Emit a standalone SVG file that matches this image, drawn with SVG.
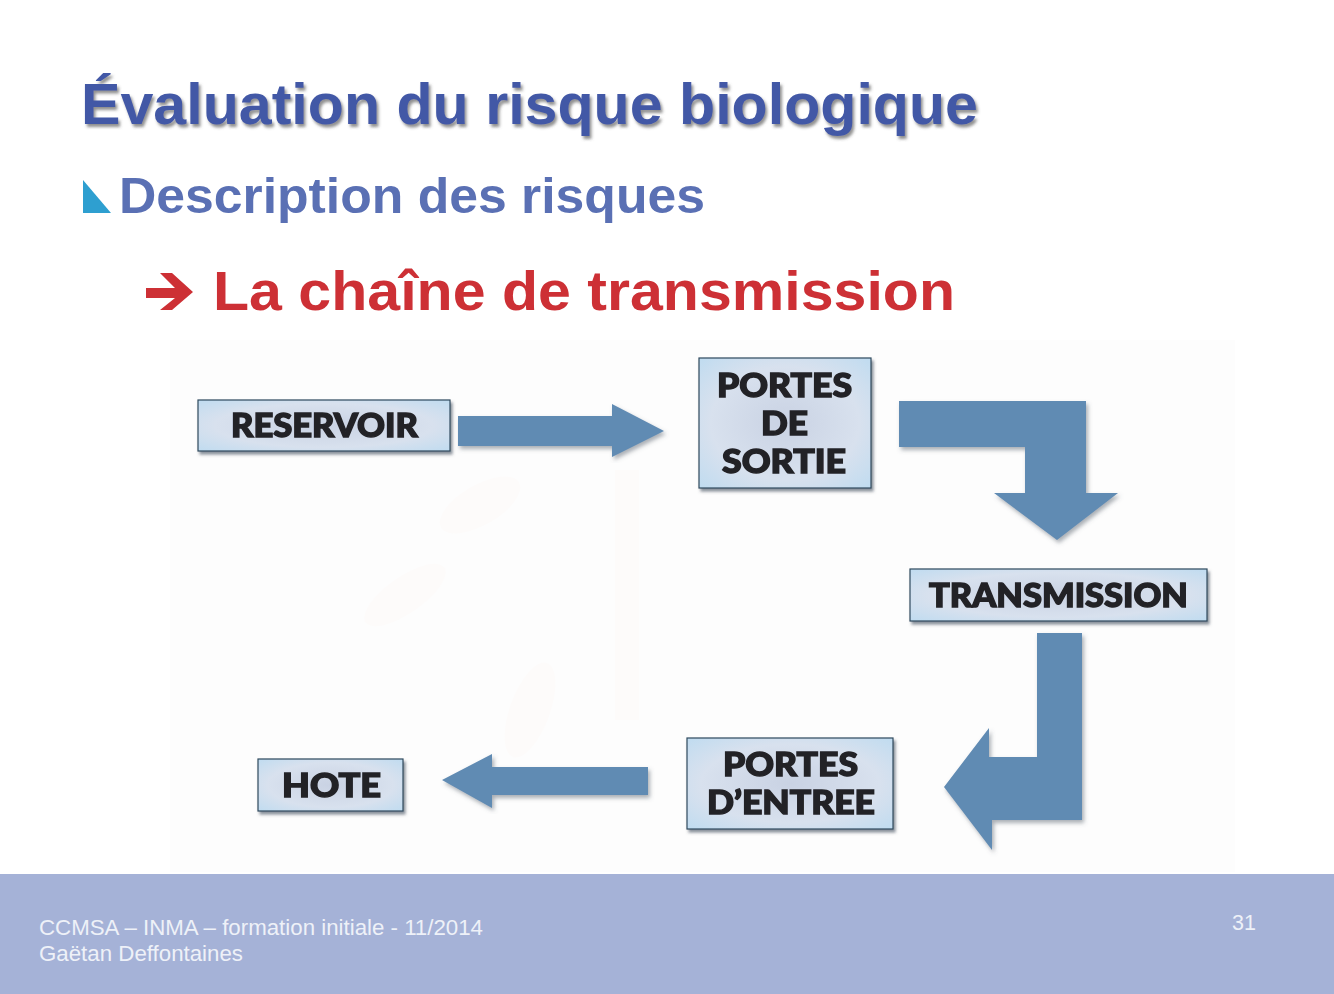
<svg xmlns="http://www.w3.org/2000/svg" width="1334" height="994" viewBox="0 0 1334 994">
<style>
.t{font-family:"Liberation Sans",Arial,sans-serif}
.n{font-family:Lato,"Open Sans",sans-serif;font-weight:900;font-size:32px;fill:#232226;stroke:#232226;stroke-width:1.4px;text-anchor:middle;filter:url(#nb)}
.box{fill:url(#bg);stroke:#2f4a5e;stroke-width:1.2;filter:url(#bs)}
.ar{fill:#618bb3;filter:url(#as)}
.f{font-family:"Liberation Sans",Arial,sans-serif;font-size:21.5px;fill:#eef1f8}
</style>
<defs>
<radialGradient id="bg" cx="0.5" cy="0.5" r="0.72">
<stop offset="0" stop-color="#c9d2e3"/><stop offset="0.6" stop-color="#d8e1ee"/><stop offset="1" stop-color="#bedbf0"/>
</radialGradient>
<filter id="bs" x="-10%" y="-15%" width="120%" height="130%"><feDropShadow dx="2" dy="3" stdDeviation="1.5" flood-color="#3a4a58" flood-opacity="0.6"/></filter>
<filter id="as" x="-10%" y="-10%" width="120%" height="120%"><feDropShadow dx="2" dy="3" stdDeviation="2" flood-color="#55606a" flood-opacity="0.5"/></filter>
<filter id="ts" x="-5%" y="-10%" width="110%" height="130%"><feDropShadow dx="2" dy="3" stdDeviation="1.5" flood-color="#555" flood-opacity="0.65"/></filter>
<filter id="nb"><feGaussianBlur stdDeviation="0.5"/></filter>
</defs>
<rect width="1334" height="994" fill="#fff"/>
<rect x="170" y="340" width="1065" height="532" fill="#fdfdfd"/>
<g id="watermark" fill="#fdfbfa">
<ellipse cx="480" cy="505" rx="45" ry="20" transform="rotate(-30 480 505)"/>
<ellipse cx="405" cy="595" rx="48" ry="18" transform="rotate(-35 405 595)"/>
<rect x="615" y="470" width="24" height="250"/>
<ellipse cx="530" cy="710" rx="20" ry="50" transform="rotate(20 530 710)"/>
</g>
<text class="t" x="81" y="124" font-size="58" font-weight="700" fill="#4358a6" filter="url(#ts)" textLength="897" lengthAdjust="spacingAndGlyphs">Évaluation du risque biologique</text>
<polygon points="83,180 83,213 111,213" fill="#2e9fd0"/>
<text class="t" x="119" y="213" font-size="50" font-weight="700" fill="#5a70b4" textLength="586" lengthAdjust="spacingAndGlyphs">Description des risques</text>
<path d="M146 288H175L160 273H172L193 292L172 310H160L175 298H146Z" fill="#cd3035"/>
<text class="t" x="213" y="310" font-size="56" font-weight="700" fill="#cd3035" textLength="742" lengthAdjust="spacingAndGlyphs">La chaîne de transmission</text>

<g id="connectors">
<polygon class="ar" points="458,416 612,416 612,404 664,431 612,457 612,446 458,446"/>
<polygon class="ar" points="899,401 1086,401 1086,493 1118,493 1057,540 994,493 1025,493 1025,447 899,447"/>
<polygon class="ar" points="1037,633 1082,633 1082,820 992,820 992,850 944,787 989,728 989,757 1037,757"/>
<polygon class="ar" points="648,767 492,767 492,754 442,780 492,808 492,795 648,795"/>
</g>

<g id="reservoir"><rect class="box" x="198" y="400" width="252" height="51"/><text class="n" x="324.500" y="437" textLength="187" lengthAdjust="spacingAndGlyphs">RESERVOIR</text></g>
<g id="portes-sortie"><rect class="box" x="699" y="358" width="172" height="130"/>
<text class="n" x="784.500" y="397" textLength="135" lengthAdjust="spacingAndGlyphs">PORTES</text><text class="n" x="784.500" y="435" textLength="47" lengthAdjust="spacingAndGlyphs">DE</text><text class="n" x="784" y="473" textLength="124" lengthAdjust="spacingAndGlyphs">SORTIE</text></g>
<g id="transmission"><rect class="box" x="910" y="569" width="297" height="52"/><text class="n" x="1058.500" y="607" textLength="259" lengthAdjust="spacingAndGlyphs">TRANSMISSION</text></g>
<g id="portes-entree"><rect class="box" x="687" y="738" width="206" height="91"/>
<text class="n" x="790.500" y="776" textLength="135" lengthAdjust="spacingAndGlyphs">PORTES</text><text class="n" x="791" y="814" textLength="168" lengthAdjust="spacingAndGlyphs">D’ENTREE</text></g>
<g id="hote"><rect class="box" x="258" y="759" width="145" height="52"/><text class="n" x="331.500" y="797" textLength="99" lengthAdjust="spacingAndGlyphs">HOTE</text></g>

<g id="footer">
<rect x="0" y="874" width="1334" height="120" fill="#a5b2d7"/>
<text class="f" x="39" y="935" textLength="444" lengthAdjust="spacingAndGlyphs">CCMSA – INMA – formation initiale - 11/2014</text>
<text class="f" x="39" y="961" textLength="204" lengthAdjust="spacingAndGlyphs">Gaëtan Deffontaines</text>
<text class="f" x="1232" y="930">31</text>
</g>
</svg>
